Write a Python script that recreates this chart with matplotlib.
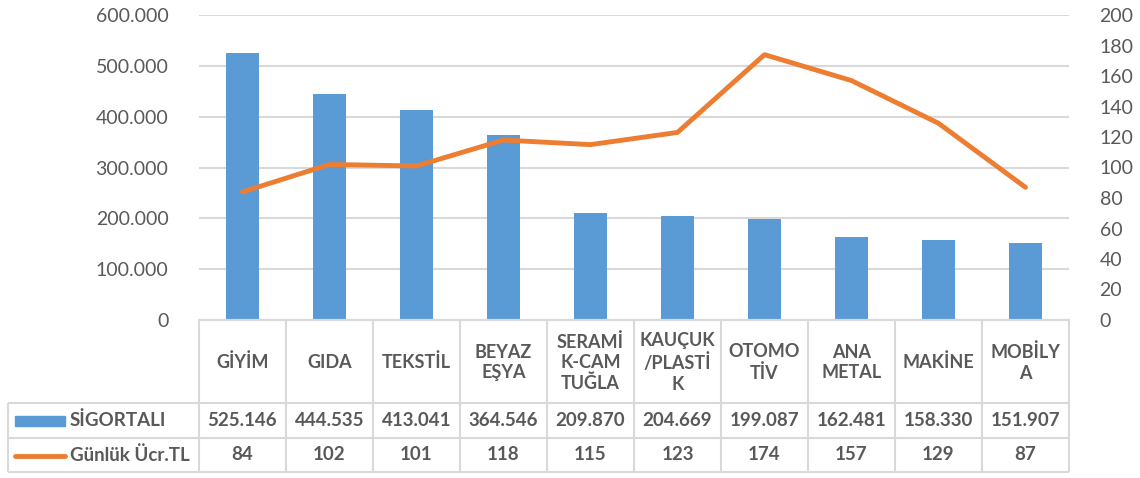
import matplotlib.pyplot as plt
from matplotlib.ticker import FuncFormatter, MultipleLocator
from matplotlib.patches import Rectangle

plt.rcParams['font.family'] = ['Lato', 'DejaVu Sans']

# veriler
sektorler = ['GİYİM', 'GIDA', 'TEKSTİL', 'BEYAZ\nEŞYA', 'SERAMİ\nK-CAM\nTUĞLA',
             'KAUÇUK\n/PLASTİ\nK', 'OTOMO\nTİV', 'ANA\nMETAL', 'MAKİNE', 'MOBİLY\nA']
sigortali = [525146, 444535, 413041, 364546, 209870, 204669, 199087, 162481, 158330, 151907]
ucret = [84, 102, 101, 118, 115, 123, 174, 157, 129, 87]

BAR = '#5B9BD5'
LINE = '#ED7D31'
TXT = '#595959'
GRID = '#D9D9D9'

W, H = 1140, 478
fig = plt.figure(figsize=(W / 100, H / 100), dpi=100)

# piksel sinirlari
x0, x1 = 199, 1069
y_top, y_axis, y_bot = 15, 320, 472
col = (x1 - x0) / len(sektorler)

ax = fig.add_axes([x0 / W, (H - y_axis) / H, (x1 - x0) / W, (y_axis - y_top) / H])
n = len(sektorler)
xs = list(range(n))
ax.bar(xs, sigortali, width=0.39, color=BAR, zorder=2)
ax.set_xlim(-0.5, n - 0.5)
ax.set_ylim(0, 600000)
ax.yaxis.set_major_locator(MultipleLocator(100000))
ax.yaxis.set_major_formatter(FuncFormatter(lambda v, p: f'{int(v):,}'.replace(',', '.')))
ax.grid(axis='y', color=GRID, lw=1.5, zorder=0)
for s in ['top', 'right', 'left']:
    ax.spines[s].set_visible(False)
ax.spines['bottom'].set_color(GRID)
ax.spines['bottom'].set_linewidth(1.5)
ax.set_xticks([])
ax.tick_params(axis='y', length=0, labelsize=14, labelcolor=TXT, pad=22)

ax2 = ax.twinx()
ax2.plot(xs, ucret, color=LINE, lw=3.5, solid_capstyle='round', solid_joinstyle='round', zorder=3)
ax2.set_ylim(0, 200)
ax2.yaxis.set_major_locator(MultipleLocator(20))
for s in ax2.spines.values():
    s.set_visible(False)
ax2.tick_params(axis='y', length=0, labelsize=14, labelcolor=TXT, pad=22)

# veri tablosu
left_px = 8
tab = fig.add_axes([left_px / W, (H - y_bot) / H, (x1 - left_px) / W, (y_bot - y_axis) / H])
xl = -0.5 - (x0 - left_px) / col
tab.set_xlim(xl, n - 0.5)
tab.set_ylim(y_bot - y_axis, 0)
tab.axis('off')
r1, r2, r3 = 83, 118, y_bot - y_axis

kw = dict(color=GRID, lw=1.5, clip_on=False, solid_capstyle='butt')
tab.plot([-0.5, n - 0.5], [0, 0], **kw)
for yy in [r1, r2, r3]:
    tab.plot([xl, n - 0.5], [yy, yy], **kw)
for i in range(n + 1):
    tab.plot([i - 0.5, i - 0.5], [0, r3], **kw)
tab.plot([xl, xl], [r1, r3], **kw)

for i in range(n):
    tab.text(i, r1 / 2 + 1, sektorler[i], ha='center', va='center', fontsize=13,
             fontweight='bold', color=TXT, linespacing=1.25)
    tab.text(i, (r1 + r2) / 2, f'{sigortali[i]:,}'.replace(',', '.'), ha='center', va='center',
             fontsize=13.5, fontweight='bold', color=TXT)
    tab.text(i, (r2 + r3) / 2, str(ucret[i]), ha='center', va='center',
             fontsize=13.5, fontweight='bold', color=TXT)

# tablo lejantlari
def px(xp):
    return xl + (xp - left_px) / col

tab.add_patch(Rectangle((px(15), (r1 + r2) / 2 - 5), px(65) - px(15), 10,
                        color=BAR, clip_on=False))
tab.plot([px(15), px(65)], [(r2 + r3) / 2 + 1] * 2, color=LINE, lw=3.5,
         solid_capstyle='round', clip_on=False)
tab.text(px(70), (r1 + r2) / 2, 'SİGORTALI', ha='left', va='center', fontsize=13.5,
         fontweight='bold', color=TXT)
tab.text(px(70), (r2 + r3) / 2, 'Günlük Ücr.TL', ha='left', va='center', fontsize=13.5,
         fontweight='bold', color=TXT)

fig.savefig('out.png', dpi=100)
